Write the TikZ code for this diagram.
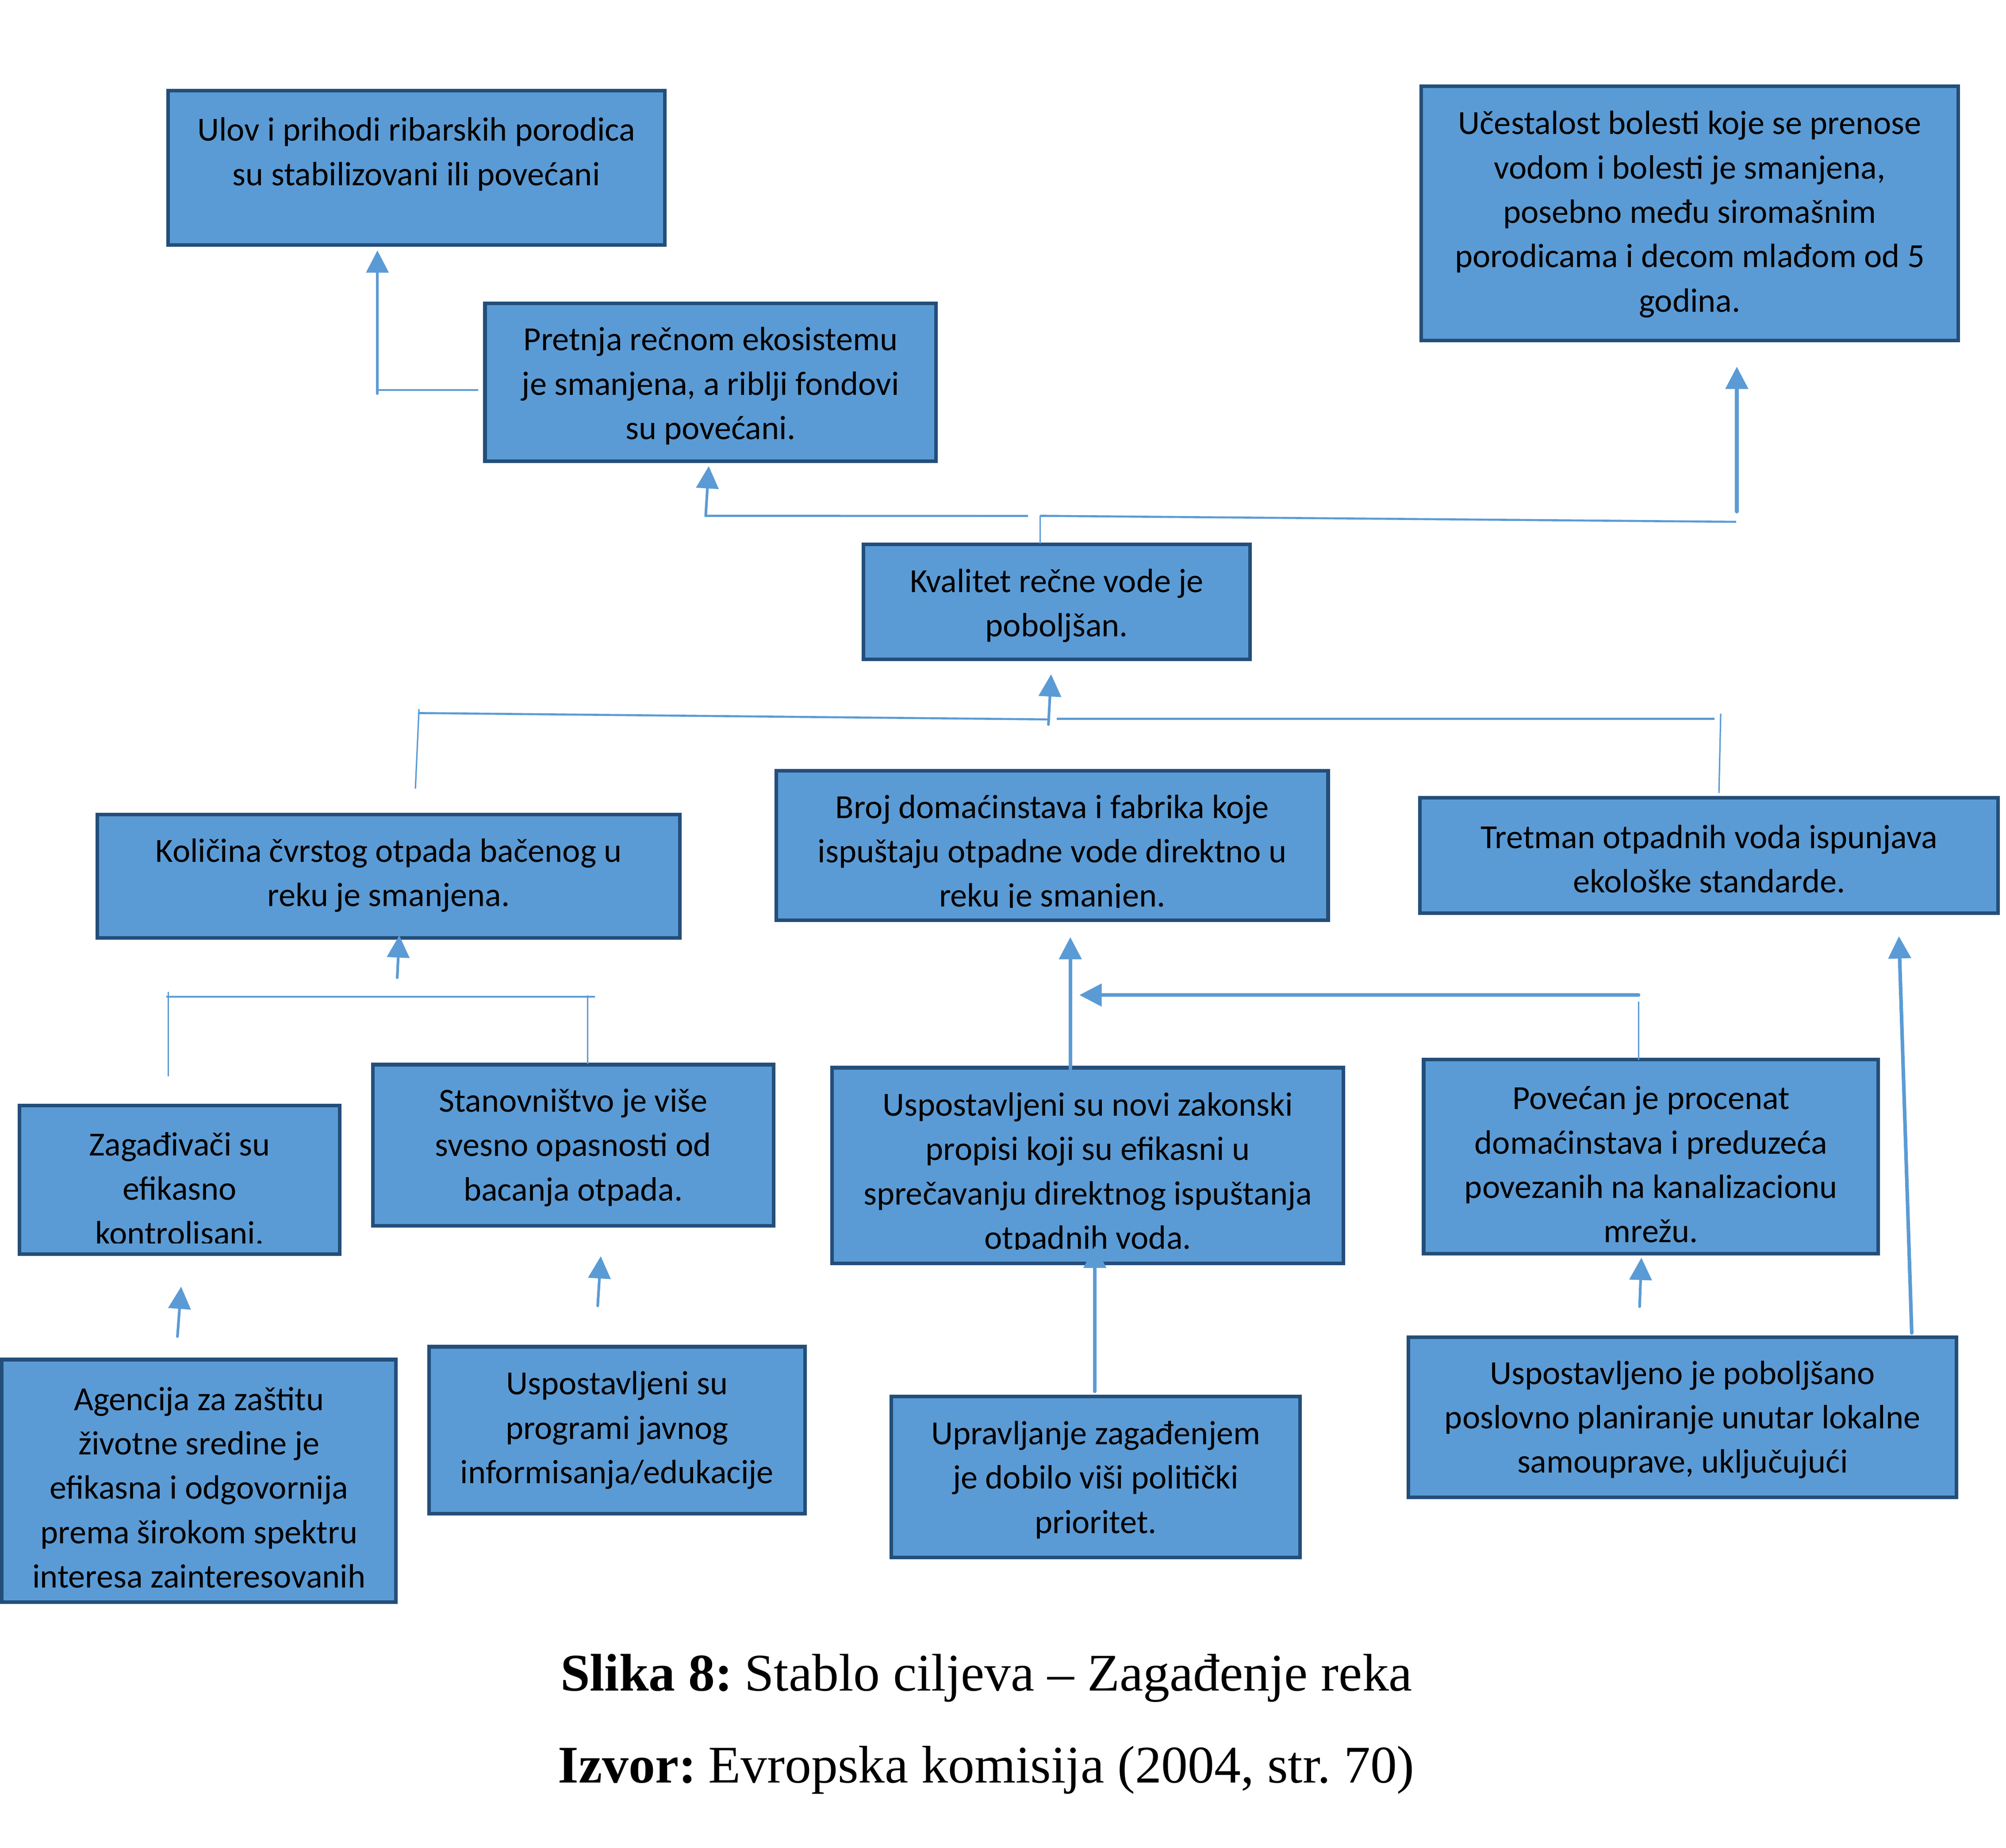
\documentclass[tikz,border=0pt]{standalone}
\usepackage{fontspec}
\setmainfont{Carlito}
\newfontfamily\capfont{Liberation Serif}
\usetikzlibrary{arrows.meta,fit}
\definecolor{boxfill}{HTML}{5B9BD5}
\definecolor{boxline}{HTML}{234E79}
\begin{document}
\frenchspacing
\begin{tikzpicture}[x=0.5pt,y=-0.5pt,
  goal/.style={draw=boxline,fill=boxfill,line width=1.4pt,inner sep=0pt,rectangle},
  txt/.style={align=center,inner sep=0pt,text=black,yshift=-0.75pt,font=\fontsize{13.2}{17.35}\selectfont},
  captext/.style={anchor=base,inner sep=0pt,font=\capfont\fontsize{20.7}{24}\selectfont},
  arr/.style={draw=boxfill,line width=1.4pt,line cap=round,-{Triangle[length=8.7pt,width=8.7pt]}},
  arrthin/.style={arr,line width=1.05pt},
  vline/.style={draw=boxfill,line width=0.55pt},
  hline/.style={draw=boxfill,line width=0.8pt}]
\useasboundingbox (0,0) rectangle (1568,1444.6);

% ---------- boxes ----------
\node[goal,fit={(131.4,70.9) (519.6,191.6)}] (ulov) {};
\node[goal,fit={(379.1,237.1) (731.6,360.6)}] (pretnja) {};
\node[goal,fit={(1110.9,67.4) (1530.6,266.1)}] (ucest) {};
\node[goal,fit={(675,425.7) (977.2,515.6)}] (kval) {};
\node[goal,fit={(76,636.9) (531.5,733.4)}] (kol) {};
\node[goal,fit={(606.9,602.6) (1038.1,719.6)}] (broj) {};
\node[goal,fit={(1110,623.8) (1561.9,714)}] (tret) {};
\node[goal,fit={(15.2,864.4) (265.5,980.6)}] (zag) {};
\node[goal,fit={(291.4,832.4) (604.8,958.3)}] (stan) {};
\node[goal,fit={(650.4,834.8) (1050.1,987.9)}] (zak) {};
\node[goal,fit={(1112.8,828.4) (1468.2,980.3)}] (pov) {};
\node[goal,fit={(1.4,1063) (309.5,1252.6)}] (agen) {};
\node[goal,fit={(335.4,1053) (629.2,1183.6)}] (prog) {};
\node[goal,fit={(696.8,1092) (1016.2,1217.6)}] (upr) {};
\node[goal,fit={(1101,1045.4) (1529.4,1170.6)}] (pob) {};

% ---------- texts ----------
\node[txt] (tulov) at (325.5,119) {Ulov i prihodi ribarskih porodica\\su stabilizovani ili povećani};
\node[txt] (tpretnja) at (555.4,300.3) {Pretnja rečnom ekosistemu\\je smanjena, a riblji fondovi\\su povećani.};
\node[txt] (tucest) at (1320.8,166) {Učestalost bolesti koje se prenose\\vodom i bolesti je smanjena,\\posebno među siromašnim\\porodicama i decom mlađom od 5\\godina.};
\node[txt] (tkval) at (826,472) {Kvalitet rečne vode je\\poboljšan.};
\node[txt] (tkol) at (303.8,683) {Količina čvrstog otpada bačenog u\\reku je smanjena.};
\begin{scope}
  \clip (607,603) rectangle (1038,709.5);
  \node[txt] (tbroj) at (822.5,666) {Broj domaćinstava i fabrika koje\\ispuštaju otpadne vode direktno u\\reku je smanjen.};
\end{scope}
\node[txt] (ttret) at (1336,670) {Tretman otpadnih voda ispunjava\\ekološke standarde.};
\begin{scope}
  \clip (16,865) rectangle (265,972);
  \node[txt] (tzag) at (140.4,927.7) {Zagađivači su\\efikasno\\kontrolisani.};
\end{scope}
\node[txt] (tstan) at (448.1,895.7) {Stanovništvo je više\\svesno opasnosti od\\bacanja otpada.};
\begin{scope}
  \clip (651,836) rectangle (1049,977);
  \node[txt] (tzak) at (850.3,916) {Uspostavljeni su novi zakonski\\propisi koji su efikasni u\\sprečavanju direktnog ispuštanja\\otpadnih voda.};
\end{scope}
\node[txt] (tpov) at (1290.5,909) {Povećan je procenat\\domaćinstava i preduzeća\\povezanih na kanalizacionu\\mrežu.};
\node[txt] (tagen) at (155.5,1161.5) {Agencija za zaštitu\\životne sredine je\\efikasna i odgovornija\\prema širokom spektru\\interesa zainteresovanih};
\node[txt] (tprog) at (482.3,1116.7) {Uspostavljeni su\\programi javnog\\informisanja/edukacije};
\node[txt] (tupr) at (856.5,1155.5) {Upravljanje zagađenjem\\je dobilo viši politički\\prioritet.};
\node[txt] (tpob) at (1315.2,1108.5) {Uspostavljeno je poboljšano\\poslovno planiranje unutar lokalne\\samouprave, uključujući};

% ---------- connectors ----------
% Pretnja -> Ulov
\coordinate (a1) at (373.6,305);
\coordinate (a2) at (295,305);
\coordinate (a3) at (295,307.7);
\coordinate (a4) at (295,195.8);
\draw[hline] (a1) -- (a2);
\draw[arrthin] (a3) -- (a4);

% Kvalitet -> Pretnja, Ucestalost
\coordinate (k1) at (813,425);
\coordinate (k2) at (813,403.3);
\coordinate (k3) at (803.6,403.4);
\coordinate (k4) at (551.6,403.3);
\coordinate (k5) at (1357,408);
\coordinate (k6) at (554,364.5);
\coordinate (k7) at (1357.6,400);
\coordinate (k8) at (1357.6,286.7);
\draw[vline] (k1) -- (k2);
\draw[hline] (k3) -- (k4);
\draw[hline] (k2) -- (k5);
\draw[arrthin] (k4) -- (k6);
\draw[arr] (k7) -- (k8);

% middle level -> Kvalitet
\coordinate (m1) at (327.5,554.4);
\coordinate (m2) at (324.7,616.6);
\coordinate (m3) at (327.5,557.5);
\coordinate (m4) at (819.5,562.5);
\coordinate (m5) at (826,562);
\coordinate (m6) at (1340,562);
\coordinate (m7) at (1345,558);
\coordinate (m8) at (1343.6,620);
\coordinate (m9) at (819.5,566.5);
\coordinate (m10) at (821.6,527.2);
\draw[vline] (m1) -- (m2);
\draw[hline] (m3) -- (m4);
\draw[hline] (m5) -- (m6);
\draw[vline] (m7) -- (m8);
\draw[arrthin] (m9) -- (m10);

% Zagadjivaci, Stanovnistvo -> Kolicina
\coordinate (l1) at (131.6,775.6);
\coordinate (l2) at (131.6,841.7);
\coordinate (l3) at (129.9,779.3);
\coordinate (l4) at (465.1,779.3);
\coordinate (l5) at (459.2,778.2);
\coordinate (l6) at (459.2,832);
\coordinate (l7) at (310.5,764.4);
\coordinate (l8) at (312.1,731.3);
\draw[vline] (l1) -- (l2);
\draw[vline] (l3) -- (l4);
\draw[vline] (l5) -- (l6);
\draw[arrthin] (l7) -- (l8);

% bottom row arrows
\coordinate (r1) at (138.7,1045);
\coordinate (r2) at (141.6,1006);
\coordinate (r3) at (467.2,1021);
\coordinate (r4) at (469.6,982.2);
\coordinate (r5) at (855.8,1087.8);
\coordinate (r6) at (855.8,974);
\coordinate (r7) at (836.6,835.5);
\coordinate (r8) at (836.6,732.7);
\coordinate (r9) at (1280.8,828.6);
\coordinate (r10) at (1280.8,783);
\coordinate (r11) at (1280.8,778);
\coordinate (r12) at (843.7,778);
\coordinate (r13) at (1281.6,1021.6);
\coordinate (r14) at (1283,983.4);
\coordinate (r15) at (1494.3,1042.2);
\coordinate (r16) at (1484.3,732);
\draw[arrthin] (r1) -- (r2);
\draw[arrthin] (r3) -- (r4);
\draw[arr] (r5) -- (r6);
\draw[arr] (r7) -- (r8);
\draw[vline] (r9) -- (r10);
\draw[arr] (r11) -- (r12);
\draw[arrthin] (r13) -- (r14);
\draw[arr] (r15) -- (r16);

% ---------- caption ----------
\node[captext] (cap1) at (771,1322) {\textbf{Slika 8:}\kern-0.5pt\ Stablo ciljeva – Zagađenje reka};
\node[captext] (cap2) at (771,1394) {\textbf{Izvor:}\kern-0.5pt\ Evropska komisija (2004, str.\ 70)};
\end{tikzpicture}
\end{document}
